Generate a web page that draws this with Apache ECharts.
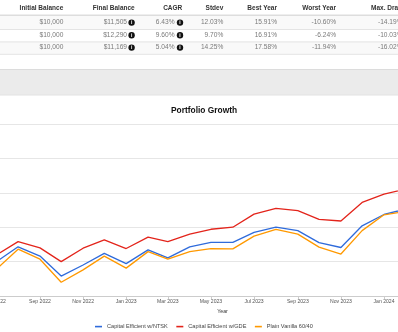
<!DOCTYPE html>
<html><head><meta charset="utf-8">
<script src="https://cdn.jsdelivr.net/npm/echarts@6/dist/echarts.min.js"></script>
<style>html,body{margin:0;padding:0;background:#fff}#c{width:398px;height:332px}</style>
</head><body><div id="c"></div>
<script>
// ---- chart data (monthly balances) ----
const months = ['2022-07-01','2022-08-01','2022-09-01','2022-10-01','2022-11-01','2022-12-01',
  '2023-01-01','2023-02-01','2023-03-01','2023-04-01','2023-05-01','2023-06-01','2023-07-01',
  '2023-08-01','2023-09-01','2023-10-01','2023-11-01','2023-12-01','2024-01-01','2024-02-01'];
const ntsk    = [8990, 9430, 9160, 8580, 8900, 9240, 8940, 9340, 9110, 9430, 9560, 9560, 9850, 10000, 9900, 9550, 9410, 10040, 10370, 10530];
const gde     = [9190, 9580, 9400, 9000, 9390, 9630, 9380, 9710, 9580, 9800, 9940, 10000, 10380, 10550, 10480, 10230, 10180, 10720, 10960, 11110];
const vanilla = [8770, 9360, 9070, 8400, 8760, 9160, 8810, 9290, 9070, 9290, 9380, 9370, 9740, 9940, 9800, 9420, 9220, 9900, 10360, 10460];
const seriesNames = ['Capital Efficient w/NTSK', 'Capital Efficient w/GDE', 'Plain Vanilla 60/40'];
const seriesColors = ['#2f6bdb', '#e3241b', '#ff9900'];
const yTicks = [8000, 9000, 10000, 11000, 12000, 13000];

// ---- table data ----
const tableHeaders = ['Initial Balance', 'Final Balance', 'CAGR', 'Stdev', 'Best Year', 'Worst Year', 'Max. Drawdown'];
const initialBalance = ['$10,000', '$10,000', '$10,000'];
const finalBalance = ['$11,505', '$12,290', '$11,169'];
const cagr = ['6.43%', '9.60%', '5.04%'];
const stdev = ['12.03%', '9.70%', '14.25%'];
const bestYear = ['15.91%', '16.91%', '17.58%'];
const worstYear = ['-10.60%', '-6.24%', '-11.94%'];
const maxDrawdown = ['-14.19%', '-10.03%', '-16.02%'];

const FONT = 'Arial, "Liberation Sans", sans-serif';
const g = [];
function txt(x, y, s, opt) {
  opt = opt || {};
  g.push({type: 'text', z: 10, silent: true, style: {
    x: x, y: y, text: s, fill: opt.fill || '#7a7a7a',
    fontSize: opt.size || 6.6, fontWeight: opt.bold ? 'bold' : 'normal', fontFamily: FONT,
    align: opt.align || 'right', verticalAlign: 'middle',
    textAlign: opt.align || 'right', textVerticalAlign: 'middle'}});
}
function icon(cx, cy) {
  g.push({type: 'circle', z: 10, silent: true, shape: {cx: cx, cy: cy, r: 3.2}, style: {fill: '#111'}});
  g.push({type: 'text', z: 11, silent: true, style: {x: cx, y: cy + 0.2, text: 'i', fill: '#fff',
    fontSize: 5, fontWeight: 'bold', fontFamily: FONT, align: 'center', verticalAlign: 'middle',
    textAlign: 'center', textVerticalAlign: 'middle'}});
}
function hline(y, w, c) {
  g.push({type: 'line', z: 9, silent: true, shape: {x1: 0, y1: y, x2: 398, y2: y}, style: {stroke: c, lineWidth: w}});
}
function rect(y, h, c) {
  g.push({type: 'rect', z: 1, silent: true, shape: {x: 0, y: y, width: 398, height: h}, style: {fill: c}});
}

// row stripes and borders
const rowTop = [16, 29.5, 42];
const rowMid = [22.6, 35.2, 47.6];
rect(16, 13.5, '#f9f9f9');
rect(42, 12.2, '#f9f9f9');
hline(15.2, 1.6, '#dddddd');
hline(29.5, 1, '#e4e4e4');
hline(41.9, 1, '#e4e4e4');
hline(54.3, 1, '#e4e4e4');
// band between panels
hline(69.5, 1, '#dcdcdc');
rect(70, 25, '#ebebeb');
hline(95, 1, '#e2e2e2');

// headers
const headerRight = [63.3, 134.7, 182.3, 223.3, 277, 336];
headerRight.forEach((x, i) => txt(x, 8, tableHeaders[i], {fill: '#333', bold: true, size: 6.5}));
txt(371, 8, tableHeaders[6], {fill: '#333', bold: true, size: 6.5, align: 'left'});

for (let r = 0; r < 3; r++) {
  const y = rowMid[r];
  txt(63.3, y, initialBalance[r]);
  txt(127, y, finalBalance[r]); icon(131.6, y);
  txt(174.5, y, cagr[r]); icon(180, y);
  txt(223.3, y, stdev[r]);
  txt(277, y, bestYear[r]);
  txt(336, y, worstYear[r]);
  txt(378, y, maxDrawdown[r], {align: 'left'});
}

const chart = echarts.init(document.getElementById('c'), null, {renderer: 'canvas'});
chart.setOption({
  animation: false,
  backgroundColor: '#fff',
  textStyle: {fontFamily: FONT},
  graphic: g,
  title: {
    text: 'Portfolio Growth', left: 171, top: 106.8, padding: 0,
    textStyle: {fontSize: 8.4, fontWeight: 'bold', color: '#111', fontFamily: FONT}
  },
  legend: {
    data: seriesNames, left: 95, top: 323.6, padding: 0,
    icon: 'rect', itemWidth: 7, itemHeight: 1.6, itemGap: 8.5,
    textStyle: {fontSize: 5.6, color: '#444', fontFamily: FONT}
  },
  grid: {left: -46.9, right: -28.4, top: 124, bottom: 36, containLabel: false, outerBoundsMode: 'none'},
  xAxis: {
    type: 'time', min: '2022-05-01', max: '2024-03-01', splitNumber: 10,
    name: 'Year', nameLocation: 'middle', nameGap: 12,
    nameTextStyle: {fontSize: 5.2, color: '#333', fontFamily: FONT, padding: [0, 0, 0, 65.5]},
    axisLine: {show: true, lineStyle: {color: '#cccccc', width: 1}},
    axisTick: {show: true, length: 3, lineStyle: {color: '#cccccc'}},
    axisLabel: {formatter: '{MMM} {yyyy}', fontSize: 5.1, color: '#555', margin: 3, fontFamily: FONT, hideOverlap: false},
    splitLine: {show: false}
  },
  yAxis: {
    type: 'value', min: yTicks[0], max: yTicks[yTicks.length - 1], interval: 1000,
    axisLabel: {show: false}, axisLine: {show: false}, axisTick: {show: false},
    splitLine: {show: true, lineStyle: {color: '#e6e6e6', width: 1}}
  },
  series: [ntsk, gde, vanilla].map((arr, k) => ({
    name: seriesNames[k], type: 'line', symbol: 'none', showSymbol: false,
    color: seriesColors[k],
    lineStyle: {width: 1.3, color: seriesColors[k]},
    emphasis: {disabled: true},
    data: months.map((m, i) => [m, arr[i]])
  }))
});
</script>
</body></html>
